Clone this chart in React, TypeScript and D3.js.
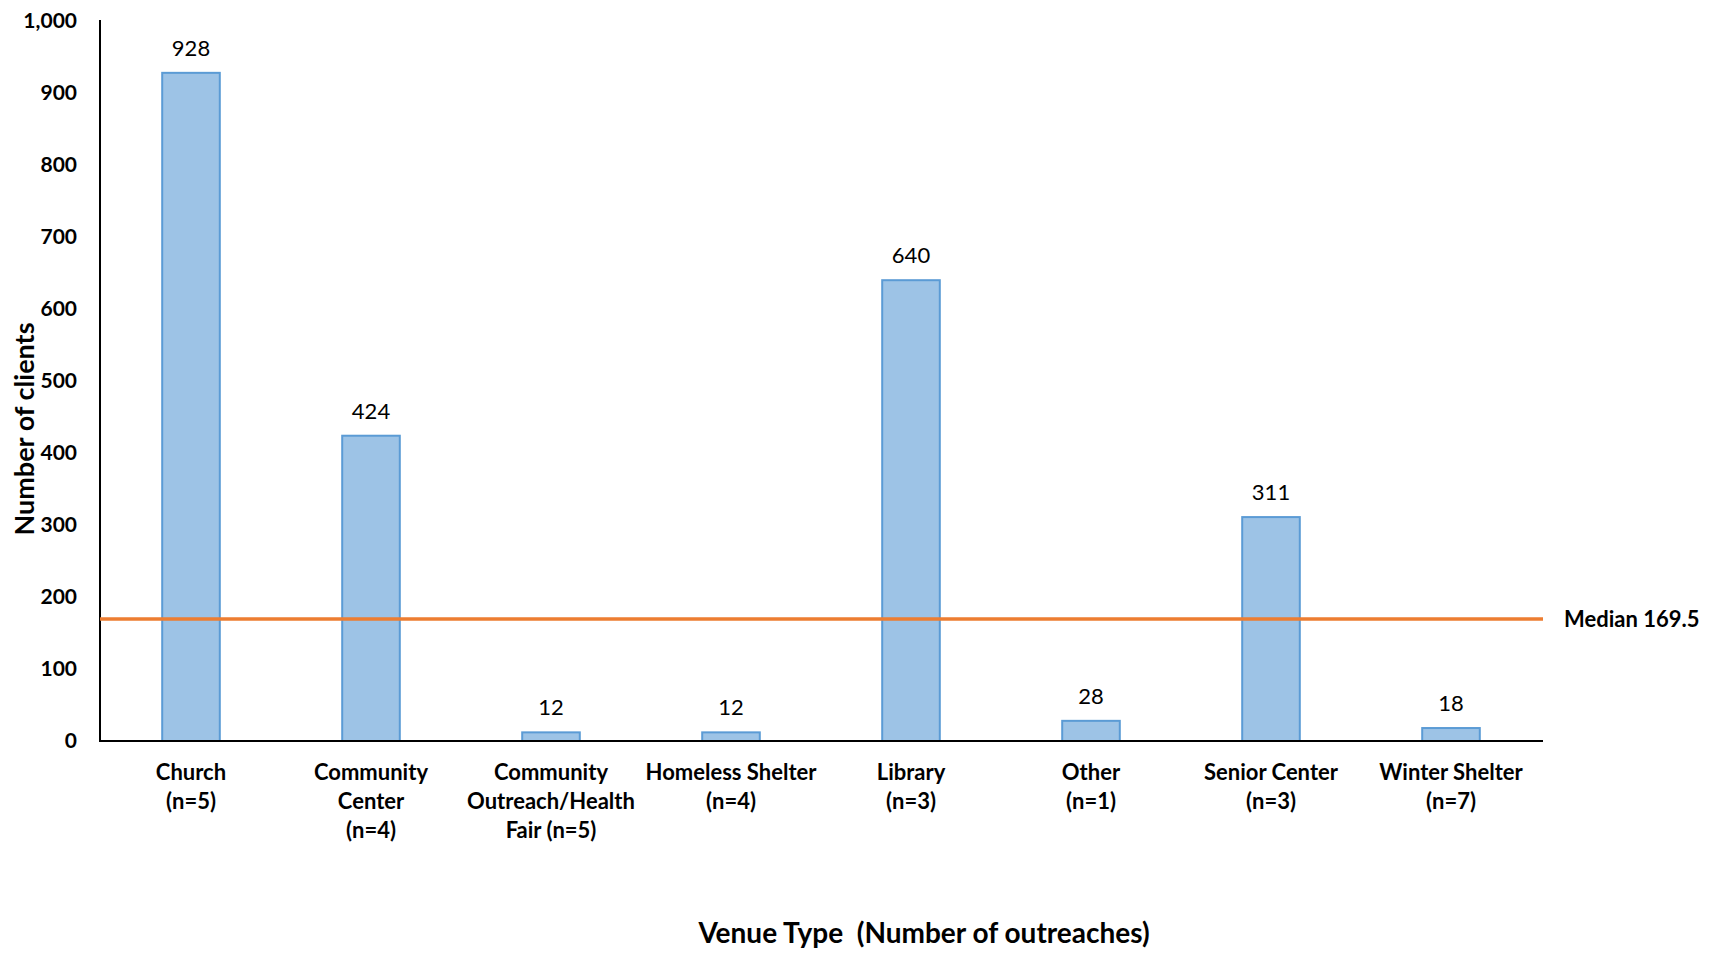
import React from "react";
import * as d3 from "d3";

const categories: string[][] = [
  ["Church", "(n=5)"],
  ["Community", "Center", "(n=4)"],
  ["Community", "Outreach/Health", "Fair (n=5)"],
  ["Homeless Shelter", "(n=4)"],
  ["Library", "(n=3)"],
  ["Other", "(n=1)"],
  ["Senior Center", "(n=3)"],
  ["Winter Shelter", "(n=7)"],
];
const values: number[] = [928, 424, 12, 12, 640, 28, 311, 18];
const yTicks: number[] = [0, 100, 200, 300, 400, 500, 600, 700, 800, 900, 1000];
const median = 169.5;

const W = 1717;
const H = 953;
const FONT = "Lato, 'Open Sans', sans-serif";

export default function App() {
  const left = 101;
  const right = 1541;
  const top = 21;
  const bottom = 741;
  const keys = categories.map((_, i) => String(i));
  const x = d3.scaleBand<string>().domain(keys).range([left, right]).paddingInner(0.68).paddingOuter(0.34);
  const y = d3.scaleLinear().domain([0, 1000]).range([bottom, top]);
  const fmt = d3.format(",");
  const bw = x.bandwidth();

  return (
    <svg width={W} height={H} style={{ position: "absolute", left: 0, top: 0, background: "#fff" }} fontFamily={FONT}>
      {values.map((v, i) => (
        <g key={i}>
          <rect
            x={x(String(i))!}
            y={y(v)}
            width={bw}
            height={bottom - y(v)}
            fill="#9DC3E6"
            stroke="#5B9BD5"
            strokeWidth={2}
          />
          <text
            x={x(String(i))! + bw / 2}
            y={y(v) - 17}
            textAnchor="middle"
            fontSize={22}
            fill="#000"
          >
            {v}
          </text>
        </g>
      ))}
      {/* axes */}
      <line x1={left - 1} x2={left - 1} y1={top - 1} y2={bottom + 1} stroke="#000" strokeWidth={2} />
      <line x1={left - 2} x2={right + 2} y1={bottom} y2={bottom} stroke="#000" strokeWidth={2} />
      {yTicks.map((t) => (
        <text key={t} x={77} y={y(t)} dy="0.35em" textAnchor="end" fontSize={21} fontWeight="bold">
          {fmt(t)}
        </text>
      ))}
      {categories.map((lines, i) => (
        <text key={i} x={x(String(i))! + bw / 2} textAnchor="middle" fontSize={22} fontWeight="bold">
          {lines.map((l, j) => (
            <tspan key={j} x={x(String(i))! + bw / 2} y={780 + j * 29}>
              {l}
            </tspan>
          ))}
        </text>
      ))}
      {/* median */}
      <line x1={left - 1} x2={right + 2} y1={y(median)} y2={y(median)} stroke="#ED7D31" strokeWidth={3.5} />
      <text x={1564} y={y(median)} dy="0.35em" fontSize={22} fontWeight="bold">
        Median {median}
      </text>
      {/* titles */}
      <text x={924} y={943} textAnchor="middle" fontSize={28} fontWeight="bold" style={{ whiteSpace: "pre" }}>
        {"Venue Type  (Number of outreaches)"}
      </text>
      <text
        transform={`translate(34, 429) rotate(-90)`}
        textAnchor="middle"
        fontSize={27}
        fontWeight="bold"
      >
        Number of clients
      </text>
    </svg>
  );
}
